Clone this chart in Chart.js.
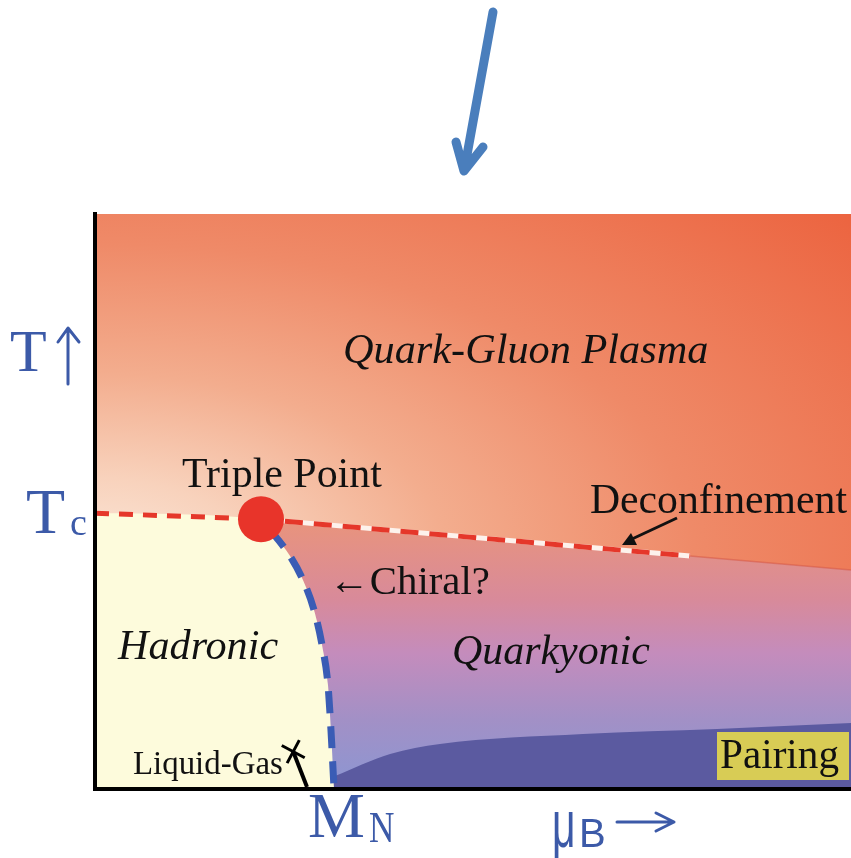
<!DOCTYPE html>
<html>
<head>
<meta charset="utf-8">
<script src="https://cdn.jsdelivr.net/npm/chart.js@4"></script>
<style>
  html, body { margin: 0; padding: 0; background: #fff; }
  canvas { display: block; }
</style>
</head>
<body>
<canvas id="phase" width="851" height="858"></canvas>
<script>
(function () {
    // Axes: mu_B in units of M_N, T in units of T_c
    const muMax = 3.566;
    const tMax = 2.107;

    // Phase boundaries
    const tcLineMu = [0, 0.783];
    const tcLineT = [1.007, 0.985];

    const chiralMu = [0.783, 0.854, 0.920, 0.981, 1.033, 1.071, 1.099, 1.113, 1.127];
    const chiralT = [0.985, 0.919, 0.849, 0.761, 0.651, 0.522, 0.375, 0.210, 0];

    const deconfMu = [0.783, 2.807, 3.566];
    const deconfT = [0.985, 0.849, 0.798];

    const pairingMu = [1.0, 1.132, 1.392, 1.627, 2.302, 2.934, 3.566];
    const pairingT = [0, 0.040, 0.121, 0.158, 0.195, 0.213, 0.235];

    const liquidGasMu = [1.0, 0.935];
    const liquidGasT = [0, 0.13];

    const triplePointMu = [0.783];
    const triplePointT = [0.985];

    const pts = (xs, ys) => xs.map((x, i) => ({ x: x, y: ys[i] }));

    const RED = "#e5372a";
    const BLUE_TXT = "#3c5aa8";

    // QGP background: elliptical radial gradient painted once, used as a pattern
    let qgpPattern = null;
    const qgpFill = (ctx) => {
        const chart = ctx.chart;
        const area = chart.chartArea;
        if (!area) return "#f09070";
        if (qgpPattern) return qgpPattern;
        const off = document.createElement("canvas");
        off.width = chart.width;
        off.height = chart.height;
        const c = off.getContext("2d");
        const cx = chart.scales.x.getPixelForValue(0);
        const cy = chart.scales.y.getPixelForValue(0.85);
        c.save();
        c.translate(cx, cy);
        c.scale(1000 / 520, 1);
        const g = c.createRadialGradient(0, 0, 0, 0, 0, 520);
        g.addColorStop(0, "#fbe6d8");
        g.addColorStop(0.15, "#f8d2bc");
        g.addColorStop(0.35, "#f3ad8e");
        g.addColorStop(0.6, "#ef8a68");
        g.addColorStop(1, "#ec6440");
        c.fillStyle = g;
        c.fillRect(-cx, -cy - 10, off.width * 2, off.height + 20);
        c.restore();
        qgpPattern = chart.ctx.createPattern(off, "no-repeat");
        return qgpPattern;
    };

    const quarkyonicFill = (ctx) => {
        const chart = ctx.chart;
        if (!chart.chartArea) return "#c48cbc";
        const y0 = chart.scales.y.getPixelForValue(triplePointT[0]);
        const y1 = chart.scales.y.getPixelForValue(0);
        const g = chart.ctx.createLinearGradient(0, y0, 0, y1);
        g.addColorStop(0, "#e9947c");
        g.addColorStop(0.3, "#d88a9a");
        g.addColorStop(0.5, "#c48cbc");
        g.addColorStop(0.75, "#a290c6");
        g.addColorStop(1, "#8c96d2");
        return g;
    };

    const fillOnly = (data, color, order) => ({
        data: data,
        fill: "origin",
        backgroundColor: color,
        borderWidth: 0,
        borderColor: "rgba(0,0,0,0)",
        pointRadius: 0,
        cubicInterpolationMode: "monotone",
        order: order
    });

    const fitSize = (c, text, width, style, family) => {
        c.font = style + " 100px " + family;
        return 100 * width / c.measureText(text).width;
    };

    const SERIF = "'Liberation Serif', 'Times New Roman', serif";

    const putText = (c, text, x, y, width, style, color) => {
        const size = fitSize(c, text, width, style, SERIF);
        c.font = style + " " + size.toFixed(1) + "px " + SERIF;
        c.fillStyle = color || "#111";
        c.textAlign = "left";
        c.textBaseline = "alphabetic";
        c.fillText(text, x, y);
    };

    const decorations = {
        id: "decorations",
        afterDatasetsDraw(chart) {
            const c = chart.ctx;
            const a = chart.chartArea;
            c.save();
            // frame: left and bottom axis lines
            c.strokeStyle = "#000";
            c.lineWidth = 4;
            c.beginPath();
            c.moveTo(a.left, a.top - 2);
            c.lineTo(a.left, a.bottom + 2);
            c.lineTo(a.right, a.bottom + 2);
            c.stroke();
            c.restore();
        },
        afterDraw(chart) {
            const c = chart.ctx;
            c.save();

            // big blue arrow on top
            c.strokeStyle = "#4a7ebc";
            c.lineWidth = 9;
            c.lineCap = "round";
            c.lineJoin = "round";
            c.beginPath();
            c.moveTo(493, 12);
            c.lineTo(465, 166);
            c.moveTo(456, 142);
            c.lineTo(464, 171);
            c.lineTo(483, 147);
            c.stroke();

            // region labels
            putText(c, "Quark-Gluon Plasma", 343, 363, 365, "italic");
            putText(c, "Triple Point", 182, 487, 200, "");
            putText(c, "Deconfinement", 590, 513, 257, "");
            putText(c, "\u2190Chiral?", 329, 594, 161, "");
            putText(c, "Hadronic", 118, 659, 160, "italic");
            putText(c, "Quarkyonic", 452, 664, 198, "italic");
            putText(c, "Liquid-Gas", 133, 774, 150, "");

            c.fillStyle = "#d8cc55";
            c.fillRect(717, 732, 132, 48);
            putText(c, "Pairing", 720, 768, 119, "");

            // deconfinement pointer
            c.strokeStyle = "#111";
            c.fillStyle = "#111";
            c.lineWidth = 3;
            c.lineCap = "butt";
            c.beginPath();
            c.moveTo(677, 518);
            c.lineTo(632, 539);
            c.stroke();
            c.beginPath();
            c.moveTo(622, 545);
            c.lineTo(631, 533);
            c.lineTo(637, 545);
            c.closePath();
            c.fill();

            // axis labels
            c.fillStyle = BLUE_TXT;
            c.strokeStyle = BLUE_TXT;
            c.textBaseline = "alphabetic";
            c.textAlign = "left";
            c.font = "60px " + SERIF;
            c.fillText("T", 10, 371);
            c.lineWidth = 3;
            c.lineCap = "round";
            c.beginPath();
            c.moveTo(68, 330);
            c.lineTo(68, 384);
            c.moveTo(58, 342);
            c.lineTo(68, 328);
            c.lineTo(79, 342);
            c.stroke();

            c.font = "64px " + SERIF;
            c.fillText("T", 26, 533);
            c.font = "38px " + SERIF;
            c.fillText("c", 70, 535);

            c.font = "64px " + SERIF;
            c.fillText("M", 308, 837);
            c.font = "44px " + SERIF;
            c.save();
            c.translate(369, 842);
            c.scale(0.8, 1);
            c.fillText("N", 0, 0);
            c.restore();

            c.save();
            c.translate(552, 847);
            c.scale(0.62, 1);
            c.font = "66px 'Liberation Sans', Arial, sans-serif";
            c.fillText("\u03bc", 0, 0);
            c.restore();
            c.font = "40px 'Liberation Sans', Arial, sans-serif";
            c.fillText("B", 579, 847);
            c.lineWidth = 3;
            c.beginPath();
            c.moveTo(617, 822);
            c.lineTo(673, 822);
            c.moveTo(656, 813);
            c.lineTo(674, 822);
            c.lineTo(656, 831);
            c.stroke();

            c.restore();
        }
    };

    new Chart(document.getElementById("phase"), {
        type: "line",
        data: {
            datasets: [
                // triple point
                {
                    data: pts(triplePointMu, triplePointT),
                    showLine: false,
                    pointRadius: 23,
                    pointBackgroundColor: "#e8342a",
                    pointBorderWidth: 0,
                    fill: false,
                    order: 0
                },
                // chiral line
                {
                    data: pts(chiralMu, chiralT),
                    borderColor: "#3a5cb5",
                    borderWidth: 7,
                    borderDash: [22, 13],
                    borderDashOffset: -14,
                    cubicInterpolationMode: "monotone",
                    pointRadius: 0,
                    fill: false,
                    order: 1
                },
                // deconfinement dashes (red on white)
                {
                    data: pts(deconfMu.slice(0, 2), deconfT.slice(0, 2)),
                    borderColor: RED,
                    borderWidth: 5,
                    borderDash: [18, 11],
                    borderDashOffset: -24,
                    pointRadius: 0,
                    fill: false,
                    order: 2
                },
                {
                    data: pts(deconfMu.slice(0, 2), deconfT.slice(0, 2)),
                    borderColor: "#fdf2ec",
                    borderWidth: 5,
                    pointRadius: 0,
                    fill: false,
                    order: 3
                },
                {
                    data: pts(deconfMu, deconfT),
                    borderColor: "rgba(214,88,70,0.55)",
                    borderWidth: 1.5,
                    pointRadius: 0,
                    fill: false,
                    order: 4
                },
                // T_c line
                {
                    data: pts(tcLineMu, tcLineT),
                    borderColor: RED,
                    borderWidth: 5,
                    borderDash: [14, 10],
                    pointRadius: 0,
                    fill: false,
                    order: 2
                },
                // liquid-gas line with end mark
                {
                    data: pts(liquidGasMu, liquidGasT),
                    borderColor: "#000",
                    borderWidth: 4,
                    pointRadius: [0, 13],
                    pointStyle: "crossRot",
                    pointRotation: -17,
                    pointBorderColor: "#000",
                    pointBorderWidth: 3,
                    fill: false,
                    order: 1
                },
                // filled regions
                fillOnly(pts(tcLineMu, tcLineT).concat(pts(chiralMu.slice(1), chiralT.slice(1))), "#fdfbdc", 7),
                fillOnly(pts(pairingMu, pairingT), "#5b5aa0", 8),
                fillOnly(pts(deconfMu, deconfT), quarkyonicFill, 9),
                fillOnly(pts([0, muMax], [tMax, tMax]), qgpFill, 10)
            ]
        },
        options: {
            responsive: false,
            animation: false,
            layout: { autoPadding: false, padding: { left: 95, top: 214, right: 0, bottom: 71 } },
            scales: {
                x: { type: "linear", min: 0, max: muMax, display: false },
                y: { type: "linear", min: 0, max: tMax, display: false }
            },
            plugins: {
                legend: { display: false },
                tooltip: { enabled: false },
                filler: { drawTime: "beforeDatasetsDraw", propagate: false }
            }
        },
        plugins: [decorations]
    });
})();
</script>
</body>
</html>
